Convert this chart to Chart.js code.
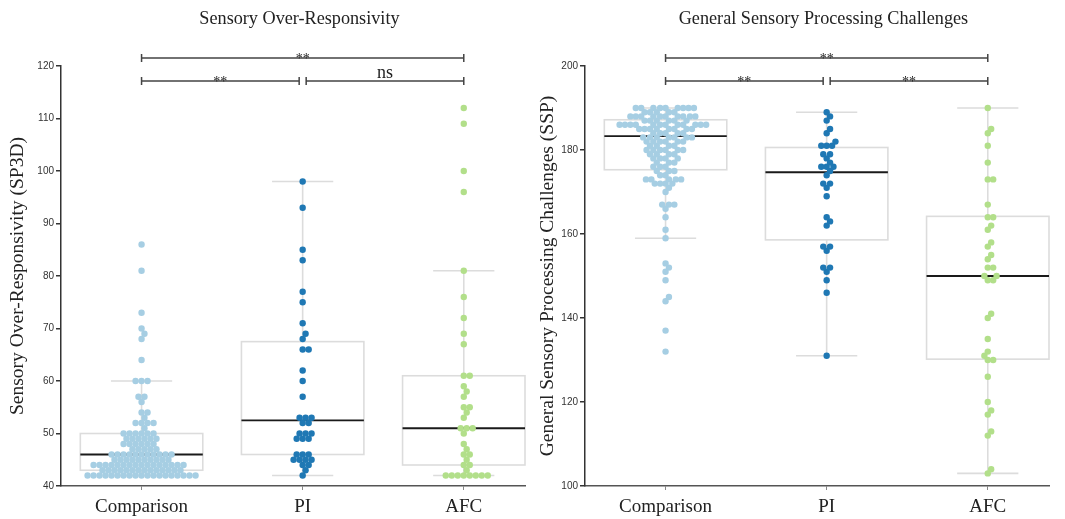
<!DOCTYPE html>
<html><head><meta charset="utf-8">
<script src="https://cdn.jsdelivr.net/npm/chart.js@4.4.1/dist/chart.umd.min.js"></script>
<style>
html,body{margin:0;padding:0;background:#fff;width:1065px;height:519px;overflow:hidden}
#w{position:relative;width:1065px;height:519px;background:#fff}
#c1{position:absolute;left:0;top:0}
#c2{position:absolute;left:530px;top:0}
</style></head><body>
<div id="w"><canvas id="c1" width="530" height="519"></canvas><canvas id="c2" width="535" height="519"></canvas></div>
<script>
// ---------- data ----------
const categories = ['Comparison', 'PI', 'AFC'];
const groupColors = ['#a6cee3', '#1f78b4', '#b2df8a'];

// Panel 1: Sensory Over-Responsivity (SP3D)
const sorTitle = 'Sensory Over-Responsivity';
const sorAxisTitle = 'Sensory Over-Responsivity (SP3D)';
const sorTicks = [40, 50, 60, 70, 80, 90, 100, 110, 120];
const sorComparison = [86, 81, 73, 70, 69, 68, 64, 60, 60, 60, 57, 57, 56, 54, 54, 53, 52, 52, 52, 52, 51,
  50, 50, 50, 50, 50, 50, 49, 49, 49, 49, 49, 49, 48, 48, 48, 48, 48, 48, 47, 47, 47, 47, 47,
  46, 46, 46, 46, 46, 46, 46, 46, 46, 46, 46, 45, 45, 45, 45, 45, 45, 45, 45, 45, 45,
  44, 44, 44, 44, 44, 44, 44, 44, 44, 44, 44, 44, 44, 44, 44, 44,
  43, 43, 43, 43, 43, 43, 43, 43, 43, 43, 43, 43, 43, 43,
  42, 42, 42, 42, 42, 42, 42, 42, 42, 42, 42, 42, 42, 42, 42, 42, 42, 42, 42];
const sorPI = [98, 93, 85, 83, 77, 75, 71, 69, 68, 66, 66, 62, 60, 57, 53, 53, 53, 52, 52,
  50, 50, 50, 49, 49, 49, 46, 46, 46, 45, 45, 45, 45, 44, 44, 43, 42];
const sorAFC = [112, 109, 100, 96, 81, 76, 72, 69, 67, 61, 61, 59, 58, 57, 55, 55, 54, 53, 51, 51, 51,
  50, 48, 47, 46, 46, 45, 44, 44, 43, 42, 42, 42, 42, 42, 42, 42, 42];
const sorQ1 = [43, 46, 44];
const sorMedian = [46, 52.5, 51];
const sorQ3 = [50, 67.5, 61];
const sorWhiskerLow = [42, 42, 42];
const sorWhiskerHigh = [60, 98, 81];
const sorSigFrom = [0, 0, 1];
const sorSigTo = [2, 1, 2];
const sorSigLabels = ['**', '**', 'ns'];

// Panel 2: General Sensory Processing Challenges (SSP)
const sspTitle = 'General Sensory Processing Challenges';
const sspAxisTitle = 'General Sensory Processing Challenges (SSP)';
const sspTicks = [100, 120, 140, 160, 180, 200];
const sspComparison = [190, 190, 190, 190, 190, 190, 190, 190, 190, 189, 189, 189, 189, 189,
  188, 188, 188, 188, 188, 188, 188, 188, 188, 188, 187, 187, 187, 187, 187, 187,
  186, 186, 186, 186, 186, 186, 186, 186, 186, 186, 186, 186, 185, 185, 185, 185, 185, 185, 185, 185,
  184, 184, 184, 184, 184, 183, 183, 183, 183, 183, 183, 183, 182, 182, 182, 182, 182, 182,
  181, 181, 181, 181, 180, 180, 180, 180, 180, 180, 179, 179, 179, 179, 178, 178, 178, 178,
  177, 177, 177, 176, 176, 176, 175, 175, 175, 174, 174, 173, 173, 173, 173, 173, 172, 172, 172, 172,
  171, 170, 167, 167, 167, 166, 164, 161, 159, 153, 152, 151, 149, 145, 144, 137, 132];
const sspPI = [189, 188, 187, 185, 184, 182, 181, 181, 181, 179, 179, 178, 177, 176, 176, 176, 175, 174,
  172, 172, 171, 169, 164, 163, 162, 157, 157, 156, 152, 152, 151, 149, 146, 131];
const sspAFC = [190, 185, 184, 181, 177, 173, 173, 167, 164, 164, 162, 161, 158, 157, 155, 154, 152, 152,
  150, 150, 149, 149, 141, 140, 135, 132, 131, 130, 130, 126, 120, 118, 117, 113, 112, 104, 103];
const sspQ1 = [175.3, 158.6, 130.2];
const sspMedian = [183.3, 174.7, 150];
const sspQ3 = [187.2, 180.6, 164.2];
const sspWhiskerLow = [159, 131, 103];
const sspWhiskerHigh = [190, 189, 190];
const sspSigFrom = [0, 0, 1];
const sspSigTo = [2, 1, 2];
const sspSigLabels = ['**', '**', '**'];

// ---------- drawing ----------
const SERIF = '"Liberation Serif", "DejaVu Serif", serif';
const SANS = '"Liberation Sans", Arial, sans-serif';

const decorPlugin = {
  id: 'decor',
  beforeDatasetsDraw(chart) {
    const o = chart.options.plugins.decor;
    const ctx = chart.ctx, xs = chart.scales.x, ys = chart.scales.y;
    const step = xs.getPixelForValue(1) - xs.getPixelForValue(0);
    const hw = step * 0.38, cw = step * 0.19;
    ctx.save();
    for (let i = 0; i < categories.length; i++) {
      const cx = xs.getPixelForValue(i);
      const yq1 = ys.getPixelForValue(o.q1[i]), yq3 = ys.getPixelForValue(o.q3[i]);
      const ylo = ys.getPixelForValue(o.lo[i]), yhi = ys.getPixelForValue(o.hi[i]);
      const ymed = ys.getPixelForValue(o.med[i]);
      ctx.strokeStyle = '#dcdcdc';
      ctx.lineWidth = 1.6;
      ctx.beginPath();
      ctx.moveTo(cx, yq3); ctx.lineTo(cx, yhi);
      ctx.moveTo(cx, yq1); ctx.lineTo(cx, ylo);
      ctx.moveTo(cx - cw, yhi); ctx.lineTo(cx + cw, yhi);
      ctx.moveTo(cx - cw, ylo); ctx.lineTo(cx + cw, ylo);
      ctx.stroke();
      ctx.strokeRect(cx - hw, yq3, 2 * hw, yq1 - yq3);
      ctx.strokeStyle = '#1a1a1a';
      ctx.lineWidth = 1.8;
      ctx.beginPath();
      ctx.moveTo(cx - hw, ymed); ctx.lineTo(cx + hw, ymed);
      ctx.stroke();
    }
    ctx.restore();
  },
  afterDraw(chart) {
    const o = chart.options.plugins.decor;
    const ctx = chart.ctx, xs = chart.scales.x, ca = chart.chartArea;
    ctx.save();
    ctx.fillStyle = '#222';
    ctx.font = '18.2px ' + SERIF;
    ctx.textAlign = 'center';
    ctx.textBaseline = 'alphabetic';
    ctx.fillText(o.title, xs.getPixelForValue(0.98), 23.5);
    ctx.strokeStyle = '#444';
    ctx.lineWidth = 1.5;
    for (let k = 0; k < o.sigFrom.length; k++) {
      const a = o.sigFrom[k], b = o.sigTo[k];
      const top = (b - a) > 1;
      const y = top ? ca.top - 8 : ca.top + 15;
      let x1 = xs.getPixelForValue(a), x2 = xs.getPixelForValue(b);
      if (!top) { if (b === 1) x2 -= 3.5; if (a === 1) x1 += 3.5; }
      ctx.beginPath();
      ctx.moveTo(x1, y); ctx.lineTo(x2, y);
      ctx.moveTo(x1, y - 4); ctx.lineTo(x1, y + 4);
      ctx.moveTo(x2, y - 4); ctx.lineTo(x2, y + 4);
      ctx.stroke();
      const lab = o.sigLabels[k];
      ctx.fillStyle = '#222';
      ctx.textAlign = 'center';
      if (lab === 'ns') {
        ctx.font = '18px ' + SERIF;
        ctx.fillText(lab, (x1 + x2) / 2, y - 3);
      } else {
        ctx.font = '14px ' + SERIF;
        ctx.fillText(lab, (x1 + x2) / 2, y + 4.5);
      }
    }
    ctx.restore();
  }
};

function makePanel(canvasId, cfg) {
  const datasets = cfg.groups.map((vals, i) => ({
    data: vals.map(v => ({ x: i, y: v })),
    backgroundColor: groupColors[i],
    borderWidth: 0,
    pointRadius: 3.2,
    pointHoverRadius: 3.2
  }));
  const chart = new Chart(document.getElementById(canvasId), {
    type: 'scatter',
    data: { datasets },
    options: {
      responsive: false,
      animation: false,
      devicePixelRatio: 1,
      layout: { padding: { top: 66, left: 0, right: cfg.padRight, bottom: 0 } },
      plugins: {
        legend: { display: false },
        tooltip: { enabled: false },
        decor: {
          title: cfg.title, q1: cfg.q1, med: cfg.med, q3: cfg.q3, lo: cfg.lo, hi: cfg.hi,
          sigFrom: cfg.sigFrom, sigTo: cfg.sigTo, sigLabels: cfg.sigLabels
        }
      },
      scales: {
        x: {
          type: 'linear', min: -0.5, max: 2.38,
          afterBuildTicks: s => { s.ticks = categories.map((c, i) => ({ value: i })); },
          afterFit: s => { s.height = 33; },
          ticks: {
            callback: v => categories[v], autoSkip: false, maxRotation: 0,
            font: { family: SERIF, size: 19 }, color: '#222', padding: 6
          },
          grid: { display: true, drawOnChartArea: false, drawTicks: true, tickLength: 4, color: '#888', lineWidth: 1 },
          border: { display: true, color: '#555', width: 1.5 }
        },
        y: {
          type: 'linear', min: cfg.ticks[0], max: cfg.ticks[cfg.ticks.length - 1],
          afterBuildTicks: s => { s.ticks = cfg.ticks.map(v => ({ value: v })); },
          afterFit: s => { s.width = cfg.axisWidth; },
          ticks: { font: { family: SANS, size: 10 }, color: '#333', padding: 2 },
          grid: { display: true, drawOnChartArea: false, drawTicks: true, tickLength: 5, color: '#333', lineWidth: 1.5 },
          border: { display: true, color: '#333', width: 1.5 },
          title: { display: true, text: cfg.axisTitle, font: { family: SERIF, size: 19.5 }, color: '#222', padding: { top: 6, bottom: 0 } }
        }
      }
    },
    plugins: [decorPlugin]
  });
  // beeswarm layout computed from the library's scales
  const xs = chart.scales.x, ys = chart.scales.y;
  const D = cfg.swarmGap;
  cfg.groups.forEach((vals, gi) => {
    const cx = xs.getPixelForValue(gi);
    const pts = vals.map(v => ({ v, y: ys.getPixelForValue(v), x: cx }));
    pts.sort((a, b) => a.v - b.v);
    const placed = [];
    for (const p of pts) {
      const neigh = placed.filter(q => Math.abs(q.y - p.y) < D);
      const cands = [cx];
      for (const q of neigh) {
        const dx = Math.sqrt(D * D - (q.y - p.y) * (q.y - p.y));
        cands.push(q.x + dx, q.x - dx);
      }
      cands.sort((a, b) => Math.abs(a - cx) - Math.abs(b - cx));
      let chosen = cx;
      for (const c of cands) {
        if (neigh.every(q => (q.x - c) * (q.x - c) + (q.y - p.y) * (q.y - p.y) >= D * D - 1e-3)) { chosen = c; break; }
      }
      p.x = chosen;
      placed.push(p);
    }
    chart.data.datasets[gi].data = placed.map(p => ({ x: xs.getValueForPixel(p.x), y: p.v }));
  });
  chart.update('none');
  return chart;
}

makePanel('c1', {
  title: sorTitle, axisTitle: sorAxisTitle, ticks: sorTicks,
  groups: [sorComparison, sorPI, sorAFC],
  q1: sorQ1, med: sorMedian, q3: sorQ3, lo: sorWhiskerLow, hi: sorWhiskerHigh,
  sigFrom: sorSigFrom, sigTo: sorSigTo, sigLabels: sorSigLabels,
  axisWidth: 61, padRight: 5, swarmGap: 6.0
});
makePanel('c2', {
  title: sspTitle, axisTitle: sspAxisTitle, ticks: sspTicks,
  groups: [sspComparison, sspPI, sspAFC],
  q1: sspQ1, med: sspMedian, q3: sspQ3, lo: sspWhiskerLow, hi: sspWhiskerHigh,
  sigFrom: sspSigFrom, sigTo: sspSigTo, sigLabels: sspSigLabels,
  axisWidth: 55, padRight: 16, swarmGap: 5.4
});
</script>
</body></html>
